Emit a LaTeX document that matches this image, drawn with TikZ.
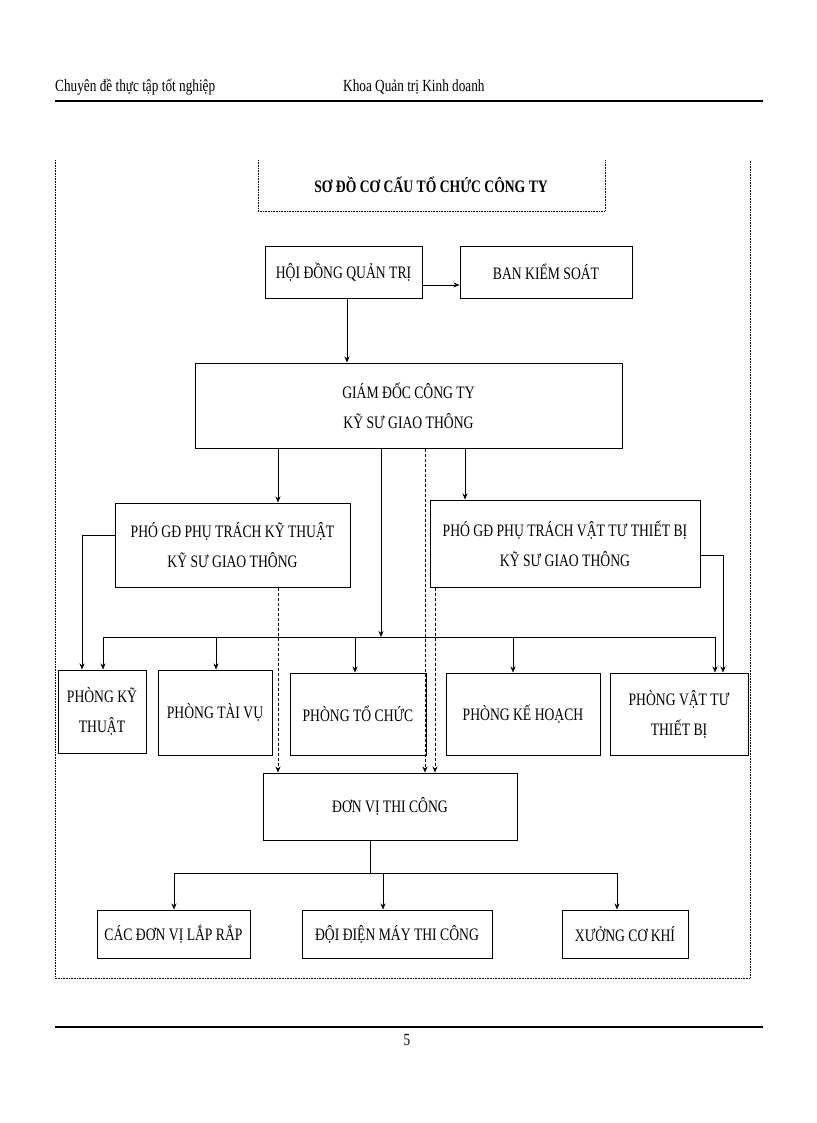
\documentclass[tikz,border=0pt]{standalone}
\usepackage{fontspec}
\setmainfont{Liberation Serif}[FakeStretch=0.78]
\usetikzlibrary{arrows.meta}
\begin{document}
\begin{tikzpicture}[x=1pt,y=-1pt,
 bx/.style={draw,line width=1pt,align=center,font=\fontsize{17.5}{30}\selectfont,inner sep=0pt},
 ar/.style={-{Stealth[length=6pt,width=5pt]},line width=0.6pt},
 da/.style={ar,dashed,dash pattern=on 3pt off 2pt}]
\useasboundingbox (0,0) rectangle (816,1123);
\node[anchor=west,font=\fontsize{17}{20}\selectfont,inner sep=0pt] (h1) at (55,87) {Chuyên đề thực tập tốt nghiệp};
\node[anchor=west,font=\fontsize{17}{20}\selectfont,inner sep=0pt] (h2) at (343,87) {Khoa Quản trị Kinh doanh};
\draw[line width=2pt] (55,101) -- (763,101);
\draw[line width=1.2pt] (55,1027) -- (763,1027);
\node[font=\fontsize{17}{20}\selectfont] (pg) at (407,1040) {5};
% outer frame
\draw[densely dotted,line width=0.6pt] (55,160) -- (55,978) -- (750,978) -- (750,160);
\draw[densely dotted,line width=0.6pt] (258,160) -- (258,211) -- (605,211) -- (605,160);
\node[font=\bfseries\fontsize{17.5}{20}\selectfont] (t) at (431,185) {SƠ ĐỒ CƠ CẤU TỔ CHỨC CÔNG TY};
% boxes
\node[bx,minimum width=157,minimum height=52] (hd) at (343.5,272) {HỘI ĐỒNG QUẢN TRỊ};
\node[bx,minimum width=172,minimum height=52] (bks) at (546,272) {BAN KIỂM SOÁT};
\node[bx,minimum width=427,minimum height=85] (gd) at (408.5,405.5) {GIÁM ĐỐC CÔNG TY\\KỸ SƯ GIAO THÔNG};
\node[bx,minimum width=235,minimum height=84] (pkt) at (232.5,545) {PHÓ GĐ PHỤ TRÁCH KỸ THUẬT\\KỸ SƯ GIAO THÔNG};
\node[bx,minimum width=270,minimum height=87] (pvt) at (565,543.5) {PHÓ GĐ PHỤ TRÁCH VẬT TƯ THIẾT BỊ\\KỸ SƯ GIAO THÔNG};
\node[bx,minimum width=88,minimum height=83] (p1) at (102,711.5) {PHÒNG KỸ\\THUẬT};
\node[bx,minimum width=114,minimum height=85] (p2) at (215,712.5) {PHÒNG TÀI VỤ};
\node[bx,minimum width=136,minimum height=82] (p3) at (358,714) {PHÒNG TỔ CHỨC};
\node[bx,minimum width=154,minimum height=82] (p4) at (523,714) {PHÒNG  KẾ HOẠCH};
\node[bx,minimum width=138,minimum height=82] (p5) at (679,714) {PHÒNG VẬT TƯ\\THIẾT BỊ};
\node[bx,minimum width=254,minimum height=67] (dv) at (390,806.5) {ĐƠN VỊ THI CÔNG};
\node[bx,minimum width=153,minimum height=48] (c1) at (173.5,934) {CÁC ĐƠN VỊ LẮP RẮP};
\node[bx,minimum width=190,minimum height=48] (c2) at (397,934) {ĐỘI ĐIỆN MÁY THI CÔNG};
\node[bx,minimum width=126,minimum height=48] (c3) at (625,934) {XƯỞNG CƠ KHÍ};
% connectors
\draw[ar] (hd.east |- 0,285) -- (bks.west |- 0,285);
\draw[ar] (hd.south -| 347,0) -- (gd.north -| 347,0);
\draw[ar] (gd.south -| 278,0) -- (pkt.north -| 278,0);
\draw[ar] (gd.south -| 465,0) -- (pvt.north -| 465,0);
\draw[ar] (gd.south -| 381,0) -- (381,637);
\coordinate (bl) at (103,637); \coordinate (br) at (715,637);
\draw[line width=0.6pt] (bl) -- (br);
\draw[ar] (bl) -- (p1.north -| bl);
\draw[ar] (216,637) -- (p2.north -| 216,0);
\draw[ar] (355,637) -- (p3.north -| 355,0);
\draw[ar] (513,637) -- (p4.north -| 513,0);
\draw[ar] (br) -- (p5.north -| br);
\draw[ar] (pkt.west |- 0,535) -| (p1.north -| 82,0);
\draw[ar] (pvt.east |- 0,555) -| (p5.north -| 723,0);
\draw[da] (gd.south -| 425,0) -- (dv.north -| 425,0);
\draw[da] (pkt.south -| 278,0) -- (dv.north -| 278,0);
\draw[da] (pvt.south -| 435,0) -- (dv.north -| 435,0);
\coordinate (b2) at (370,873);
\draw[line width=0.6pt] (dv.south -| b2) -- (b2);
\draw[line width=0.6pt] (174,873) -- (617,873);
\draw[ar] (174,873) -- (c1.north -| 174,0);
\draw[ar] (383,873) -- (c2.north -| 383,0);
\draw[ar] (617,873) -- (c3.north -| 617,0);
\end{tikzpicture}
\end{document}
